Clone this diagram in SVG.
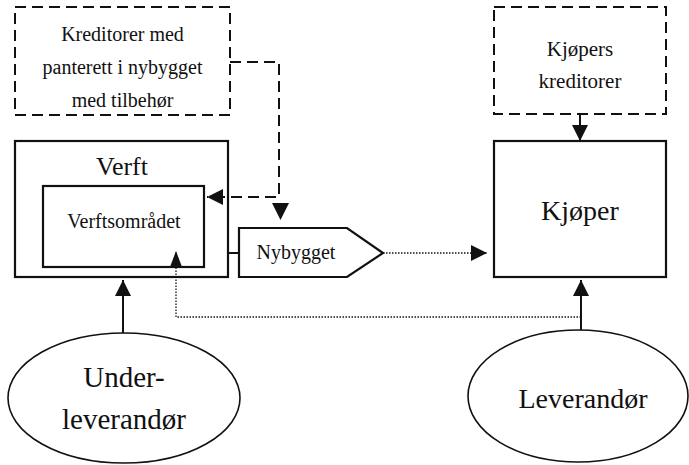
<svg xmlns="http://www.w3.org/2000/svg" width="689" height="465" viewBox="0 0 689 465">
<style>
text{font-family:"Liberation Serif","Times New Roman",serif;fill:#111;text-anchor:middle}
.box{fill:#fff;stroke:#111;stroke-width:2.2}
.dbox{fill:#fff;stroke:#111;stroke-width:2;stroke-dasharray:11 6}
.ell{fill:#fff;stroke:#111;stroke-width:1.6}
.solid{fill:none;stroke:#111;stroke-width:2}
.dash{fill:none;stroke:#111;stroke-width:2;stroke-dasharray:11 6}
.dot{fill:none;stroke:#111;stroke-width:1.3;stroke-dasharray:1.5 1.5}
</style>
<defs>
<marker id="ah" viewBox="0 0 16 16" refX="16" refY="8" markerWidth="16" markerHeight="16" markerUnits="userSpaceOnUse" orient="auto">
<path d="M0,0 L16,8 L0,16 z" fill="#111"/>
</marker>
<marker id="ahs" viewBox="0 0 16 12" refX="16" refY="6" markerWidth="16" markerHeight="12" markerUnits="userSpaceOnUse" orient="auto">
<path d="M0,0 L16,6 L0,12 z" fill="#111"/>
</marker>
</defs>
<rect width="689" height="465" fill="#fff"/>
<g id="kreditorer">
<rect class="dbox" x="15" y="7" width="215" height="108"/>
<text x="122.5" y="41" font-size="20">Kreditorer med</text>
<text x="122.5" y="74" font-size="20">panterett i nybygget</text>
<text x="122.5" y="107" font-size="20">med tilbehør</text>
</g>
<g id="kjopers-kreditorer">
<rect class="dbox" x="494" y="7" width="172" height="107"/>
<text x="580" y="56" font-size="21">Kjøpers</text>
<text x="580" y="88" font-size="21">kreditorer</text>
</g>
<g id="verft">
<rect class="box" x="15" y="141" width="213" height="136"/>
<text x="122" y="175" font-size="26">Verft</text>
</g>
<g id="verftsomradet">
<rect class="box" x="43" y="186" width="161" height="81"/>
<text x="124" y="228" font-size="20">Verftsområdet</text>
</g>
<g id="nybygget">
<polygon class="box" points="239,228 347,228 383,253 347,277 239,277"/>
<text x="296" y="259" font-size="20">Nybygget</text>
</g>
<g id="kjoper">
<rect class="box" x="494" y="141" width="172" height="136"/>
<text x="580" y="220" font-size="28">Kjøper</text>
</g>
<g id="underleverandor">
<ellipse class="ell" cx="124" cy="398" rx="116" ry="65"/>
<text x="124" y="387" font-size="29">Under-</text>
<text x="124" y="429" font-size="29">leverandør</text>
</g>
<g id="leverandor">
<ellipse class="ell" cx="578" cy="396" rx="110" ry="66"/>
<text x="583" y="408" font-size="28">Leverandør</text>
</g>
<g id="connectors">
<path class="dash" d="M230,62 H279 V197 H207" marker-end="url(#ah)"/>
<polygon points="272,203 289,203 280.5,220" fill="#111"/>
<path class="solid" d="M580,114 V141" marker-end="url(#ah)"/>
<path class="solid" d="M228,253 H239" stroke-width="1.5"/>
<path class="dot" d="M383,253 H487" marker-end="url(#ah)"/>
<path class="dot" d="M581,317 H176 V251" marker-end="url(#ahs)"/>
<path class="solid" d="M123,333 V280" marker-end="url(#ah)"/>
<path class="solid" d="M581,330 V280" marker-end="url(#ah)"/>
</g>
</svg>
